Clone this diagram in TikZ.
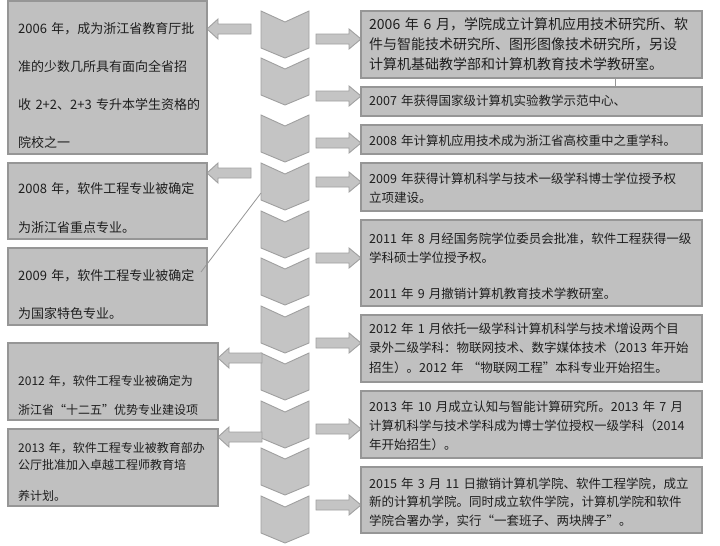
\documentclass[tikz,border=0pt]{standalone}
\usepackage{fontspec}
\setmainfont{Noto Sans CJK SC}
\usetikzlibrary{calc}
\definecolor{boxfill}{RGB}{192,192,192}
\definecolor{boxline}{RGB}{150,150,150}
\definecolor{shpfill}{RGB}{196,196,196}
\definecolor{shpline}{RGB}{160,160,160}
\definecolor{txtcol}{RGB}{30,30,30}
\tikzset{
  box/.style={draw=boxline, fill=boxfill, line width=1.2pt, anchor=north west, inner sep=0pt, outer sep=0pt},
  chev/.style={draw=shpline, fill=shpfill, line width=0.9pt, line join=miter},
  barrow/.style={draw=shpline, fill=shpfill, line width=0.9pt},
  ltext/.style={anchor=base west, inner sep=0pt, text width=260pt, align=left, text=txtcol, font=\fontsize{13}{38}\selectfont},
  rtext/.style={anchor=base west, inner sep=0pt, text width=345pt, align=left, text=txtcol, font=\fontsize{12.5}{19}\selectfont},
  thinline/.style={draw=boxline, line width=0.8pt}
}
\begin{document}
\begin{tikzpicture}[x=1pt,y=-1pt]
\useasboundingbox (0,0) rectangle (720,546);
\fill[white] (0,0) rectangle (720,546);

% chevrons
\foreach \t in {11,58,115,163,211,258,306,353,401,448,496}{
  \draw[chev] (261,\t) -- ++(24,11) -- ++(24,-11) -- ++(0,37) -- ++(-24,10) -- ++(-24,-10) -- cycle;
}

% right block arrows
\foreach \c in {39,96,143,182,258,343,429,505}{
  \draw[barrow] (316,\c-5) -- (349,\c-5) -- (349,\c-10) -- (361,\c) -- (349,\c+10) -- (349,\c+5) -- (316,\c+5) -- cycle;
}
% left block arrows
\foreach \c in {29,173}{
  \draw[barrow] (251,\c-5) -- (218,\c-5) -- (218,\c-10) -- (207,\c) -- (218,\c+10) -- (218,\c+5) -- (251,\c+5) -- cycle;
}
\foreach \c in {358,437}{
  \draw[barrow] (262,\c-5) -- (229,\c-5) -- (229,\c-10) -- (218,\c) -- (229,\c+10) -- (229,\c+5) -- (262,\c+5) -- cycle;
}

% left boxes
\node[box, minimum width=199pt, minimum height=153pt] (l1) at (8,1) {};
\node[box, minimum width=199pt, minimum height=76pt] (l2) at (8,163) {};
\node[box, minimum width=199pt, minimum height=77pt] (l3) at (8,248) {};
\node[box, minimum width=210pt, minimum height=77pt] (l4) at (8,343) {};
\node[box, minimum width=210pt, minimum height=77pt] (l5) at (8,429) {};

% right boxes
\node[box, minimum width=341pt, minimum height=67pt] (r1) at (361,11) {};
\node[box, minimum width=341pt, minimum height=29pt] (r2) at (361,87) {};
\node[box, minimum width=341pt, minimum height=29pt] (r3) at (361,125) {};
\node[box, minimum width=341pt, minimum height=48pt] (r4) at (361,163) {};
\node[box, minimum width=341pt, minimum height=86pt] (r5) at (361,220) {};
\node[box, minimum width=341pt, minimum height=67pt] (r6) at (361,315) {};
\node[box, minimum width=341pt, minimum height=67pt] (r7) at (361,391) {};
\node[box, minimum width=341pt, minimum height=66pt] (r8) at (361,467) {};

% thin connectors
\coordinate (d1) at (261,193);
\coordinate (d2) at (201,272);
\draw[thinline] (d1) -- (d2);
\coordinate (v1) at (615,78);
\coordinate (v2) at (615,87);
\draw[thinline] (v1) -- (v2);

% left texts
\node[ltext, font=\fontsize{13}{38}\selectfont] (lt1) at (18,33) {2006 年，成为浙江省教育厅批\\准的少数几所具有面向全省招\\收 2+2、2+3 专升本学生资格的\\院校之一};
\node[ltext, font=\fontsize{13}{39}\selectfont] (lt2) at (18,193) {2008 年，软件工程专业被确定\\为浙江省重点专业。};
\node[ltext] (lt3) at (18,280) {2009 年，软件工程专业被确定\\为国家特色专业。};
\node[ltext, font=\fontsize{12}{29}\selectfont] (lt4) at (18,385) {2012 年，软件工程专业被确定为\\浙江省“十二五”优势专业建设项};
\node[ltext, font=\fontsize{12}{17}\selectfont] (lt5) at (18,452) {2013 年，软件工程专业被教育部办\\公厅批准加入卓越工程师教育培\\[14pt]养计划。};

% right texts
\node[rtext, font=\fontsize{14}{20}\selectfont] (rt1) at (369,29.5) {2006 年 6 月，学院成立计算机应用技术研究所、软\\件与智能技术研究所、图形图像技术研究所，另设\\计算机基础教学部和计算机教育技术学教研室。};
\node[rtext] (rt2) at (369,105) {2007 年获得国家级计算机实验教学示范中心、};
\node[rtext] (rt3) at (369,145) {2008 年计算机应用技术成为浙江省高校重中之重学科。};
\node[rtext] (rt4) at (369,183) {2009 年获得计算机科学与技术一级学科博士学位授予权\\立项建设。};
\node[rtext] (rt5) at (369,243) {2011 年 8 月经国务院学位委员会批准，软件工程获得一级\\学科硕士学位授予权。\\[17pt]2011 年 9 月撤销计算机教育技术学教研室。};
\node[rtext, font=\fontsize{12.5}{19.5}\selectfont] (rt6) at (369,333) {2012 年 1 月依托一级学科计算机科学与技术增设两个目\\录外二级学科：物联网技术、数字媒体技术（2013 年开始\\招生）。2012 年 “物联网工程”本科专业开始招生。};
\node[rtext] (rt7) at (369,411) {2013 年 10 月成立认知与智能计算研究所。2013 年 7 月\\计算机科学与技术学科成为博士学位授权一级学科（2014\\年开始招生）。};
\node[rtext, font=\fontsize{12.5}{18.5}\selectfont] (rt8) at (369,488) {2015 年 3 月 11 日撤销计算机学院、软件工程学院，成立\\新的计算机学院。同时成立软件学院，计算机学院和软件\\学院合署办学，实行“一套班子、两块牌子”。};
\end{tikzpicture}
\end{document}
